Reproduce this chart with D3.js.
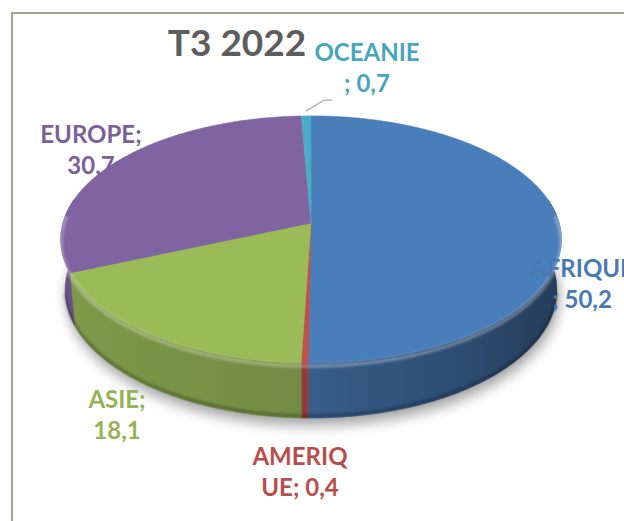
<!DOCTYPE html>
<html>
<head>
<meta charset="utf-8">
<script src="https://cdn.jsdelivr.net/npm/d3@7"></script>
<style>
  html, body { margin: 0; padding: 0; background: #fff; }
  svg { display: block; }
</style>
</head>
<body>
<div id="chart"></div>
<script>
const regions = ["AFRIQUE", "AMERIQUE", "ASIE", "EUROPE", "OCEANIE"];
const shares = [50.2, 0.4, 18.1, 30.7, 0.7];
const colors = ["#4a7ebb", "#c0504d", "#9bbb59", "#8064a2", "#4bacc6"];
const title = "T3 2022";

// label layout (where each "NAME; value" text is broken, and where it sits)
const labelBreak = [7, 6, 5, 7, 7];
const labelPos = [
  { x: 582, y: 277 },
  { x: 300, y: 465 },
  { x: 117, y: 408 },
  { x: 91, y: 143 },
  { x: 367, y: 61 }
];

const width = 624, height = 521;

const svg = d3.select("#chart").append("svg")
  .attr("width", width)
  .attr("height", height)
  .style("font-family", "Lato, 'Open Sans', sans-serif");

const defs = svg.append("defs");
defs.append("filter").attr("id", "shadow")
  .attr("x", "-20%").attr("y", "-20%").attr("width", "140%").attr("height", "140%")
  .append("feGaussianBlur").attr("stdDeviation", 7);
defs.append("filter").attr("id", "soft")
  .append("feGaussianBlur").attr("stdDeviation", 1.2);

// frame
svg.append("path")
  .attr("d", `M12,${height} V13 H${width}`)
  .attr("fill", "none")
  .attr("stroke", "#a2a68f")
  .attr("stroke-width", 2);

// title
svg.append("text")
  .attr("x", 237)
  .attr("y", 56)
  .attr("text-anchor", "middle")
  .style("font-size", "37px")
  .style("font-weight", "bold")
  .attr("fill", "#5d5d5d")
  .text(title);

// perspective projection of the tilted disc
const tilt = 29.3 * Math.PI / 180, dist = 6.53, focal = 1620, thick = 0.236;
const cx = 311, cy = 223;
function proj(a, r, z) {
  const X = r * Math.sin(a), Y = -r * Math.cos(a);
  const v = z * Math.cos(tilt) - Y * Math.sin(tilt);
  const w = dist - (Y * Math.cos(tilt) + z * Math.sin(tilt));
  return [cx + focal * X / w, cy - focal * v / w];
}
function arcPts(a0, a1, z) {
  const n = Math.max(2, Math.ceil(Math.abs(a1 - a0) / 0.008));
  return d3.range(n + 1).map(i => proj(a0 + (a1 - a0) * i / n, 1, z));
}
const line = d3.line();

const data = regions.map((name, i) => ({ name, value: shares[i], color: colors[i], i }));
const arcs = d3.pie().sort(null).value(d => d.value)(data);

// soft shadow under the disc
svg.append("path")
  .attr("d", line(arcPts(0, 2 * Math.PI, -thick).map(p => [p[0] + 2, p[1] + 7])) + "Z")
  .attr("fill", "#000")
  .attr("opacity", 0.38)
  .attr("filter", "url(#shadow)");

// side walls (only the front part faces the viewer)
const visLo = Math.PI / 2 + 0.17, visHi = 3 * Math.PI / 2 - 0.17;
arcs.forEach(a => {
  const grad = defs.append("linearGradient")
    .attr("id", "side" + a.data.i)
    .attr("gradientUnits", "userSpaceOnUse")
    .attr("x1", 60).attr("x2", 565).attr("y1", 0).attr("y2", 0);
  [[0, 0.55], [0.5, 0.85], [0.8, 1.4], [1, 2.1]].forEach(([o, k]) => {
    grad.append("stop").attr("offset", o).attr("stop-color", d3.color(a.data.color).darker(k));
  });
  const a0 = Math.max(a.startAngle, Math.PI / 2 - 0.2), a1 = Math.min(a.endAngle, 3 * Math.PI / 2 + 0.2);
  if (a1 <= a0) return;
  const top = arcPts(a0, a1, 0), bot = arcPts(a1, a0, -thick);
  svg.append("path")
    .attr("d", line(top.concat(bot)) + "Z")
    .attr("fill", `url(#side${a.data.i})`)
    .attr("stroke", `url(#side${a.data.i})`)
    .attr("stroke-width", 0.6);
});

// top faces
arcs.forEach(a => {
  const pts = [proj(0, 0, 0)].concat(arcPts(a.startAngle, a.endAngle, 0));
  svg.append("path")
    .attr("d", line(pts) + "Z")
    .attr("fill", a.data.color)
    .attr("stroke", a.data.color)
    .attr("stroke-width", 0.6);
});

// bevel highlight along the front rim
svg.append("path")
  .attr("d", line(arcPts(visLo - 0.25, visHi + 0.25, -0.012)))
  .attr("fill", "none")
  .attr("stroke", "#fff")
  .attr("stroke-opacity", 0.28)
  .attr("stroke-width", 4)
  .attr("filter", "url(#soft)");
svg.append("path")
  .attr("d", line(arcPts(visLo, visHi, -thick + 0.01)))
  .attr("fill", "none")
  .attr("stroke", "#000")
  .attr("stroke-opacity", 0.25)
  .attr("stroke-width", 3)
  .attr("filter", "url(#soft)");

// OCEANIE leader line
const oce = arcs[4];
const p0 = proj((oce.startAngle + oce.endAngle) / 2, 1.02, 0);
svg.append("path")
  .attr("d", line([[p0[0], p0[1] - 3], [p0[0] + 18, p0[1] - 14], [p0[0] + 26, p0[1] - 14]]))
  .attr("fill", "none")
  .attr("stroke", "#a6a6a6")
  .attr("stroke-width", 1.2);

// data labels
const fmt = v => v.toFixed(1).replace(".", ",");
const labels = svg.append("g").style("font-size", "24px").style("font-weight", "bold");
data.forEach((d, i) => {
  const full = `${d.name}; ${fmt(d.value)}`;
  const lines = [full.slice(0, labelBreak[i]).trim(), full.slice(labelBreak[i]).trim()];
  const t = labels.append("text")
    .attr("text-anchor", "middle")
    .attr("fill", d3.color(d.color).darker(0.12))
    .attr("x", labelPos[i].x)
    .attr("y", labelPos[i].y);
  lines.forEach((l, j) => {
    t.append("tspan").attr("x", labelPos[i].x).attr("dy", j ? 31 : 0).text(l);
  });
});
</script>
</body>
</html>
